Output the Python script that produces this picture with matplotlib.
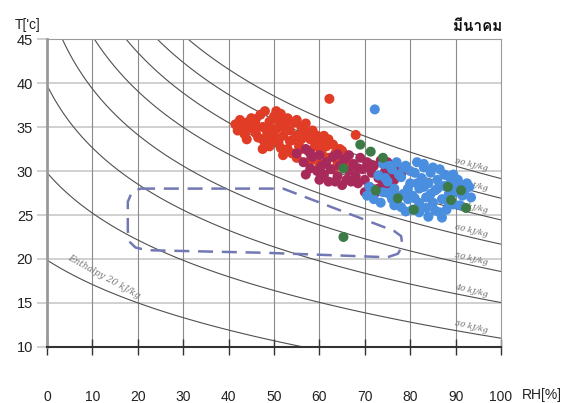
import numpy as np
import matplotlib
matplotlib.use('Agg')
import matplotlib.pyplot as plt
from matplotlib import font_manager, ft2font

red_rh = [41.5, 42, 42.5, 43.5, 44, 45, 45.5, 46, 46.5, 47, 47.5, 47.5, 48, 48.5, 49,
          49.5, 50, 50.5, 51, 51, 51.5, 52, 52.5, 53, 53, 53.5, 54, 54.5, 55, 55.5,
          56, 56, 57, 57.5, 58, 58.5, 59, 60, 60.5, 61, 61.5, 62, 63, 63.5, 64, 65,
          66, 67, 52, 55, 49, 58, 60, 62.2, 44, 63, 46, 50, 68,
          43, 44.5, 46, 47.5, 49, 50.5, 52, 53.5, 55, 56.5, 57, 59.5, 60, 62, 64.5,
          65.5, 54, 56, 48, 51.5]
red_t = [35.3, 34.6, 35.8, 34.2, 35.5, 36.0, 34.8, 35.2, 33.8, 36.4, 35.0, 32.5, 36.8, 34.3, 35.6,
         33.5, 36.2, 34.8, 35.8, 33.2, 36.5, 34.0, 35.3, 32.5, 36.0, 34.6, 33.5, 35.5, 34.0, 32.8,
         35.0, 33.6, 34.4, 32.3, 33.6, 34.6, 32.8, 33.5, 32.0, 34.0, 32.8, 31.5, 33.0, 32.0, 31.0, 32.3,
         31.5, 30.5, 31.8, 31.5, 32.8, 31.2, 30.8, 38.2, 33.6, 30.2, 35.9, 34.0, 34.1,
         35.0, 34.8, 34.3, 33.6, 34.9, 36.8, 35.0, 33.4, 35.8, 34.2, 35.4, 34.0, 32.6, 33.6, 32.5,
         31.2, 32.0, 32.5, 33.2, 32.6]

purple_rh = [55, 56.5, 57, 58, 58.5, 59.5, 60, 61, 61.5, 62.5, 63, 64, 64.5, 65.5, 66,
             66.5, 67.5, 68, 68.5, 69.5, 70, 70.5, 71, 71.5, 72, 72.5, 73, 73.5, 74, 74.5,
             75, 75.5, 76, 77, 78, 60, 57, 63.5,
             58, 60.5, 62, 65, 67, 69, 71, 73, 75, 76.5, 64, 66.5, 68.5, 70]
purple_t = [32.0, 31.0, 32.5, 30.3, 31.6, 30.0, 31.8, 29.6, 31.0, 30.2, 31.6, 29.4, 30.6, 31.3, 29.0,
            30.0, 30.8, 29.4, 28.6, 30.2, 29.0, 31.0, 28.2, 29.8, 30.6, 27.6, 29.2, 31.2, 28.6, 30.0,
            31.0, 29.3, 27.5, 30.4, 29.6, 29.0, 29.6, 28.8,
            32.0, 30.6, 28.8, 28.4, 28.8, 31.5, 30.4, 28.0, 28.2, 29.0, 31.9, 31.8, 30.3, 27.6]

blue_rh = [70.5, 72, 73.5, 75, 76.5, 78, 79.5, 80.5, 82, 83.5, 84, 85.5, 87, 88, 89.5, 91, 93.4,
           73, 74, 75, 76, 76.5, 77, 78, 78.5, 79, 80, 80.5, 81, 81.5, 82, 82.5, 83, 83.5,
           84, 84.5, 85, 85.5, 86, 86.5, 87, 87.5, 88, 88.5, 89, 89.5, 90, 90.5, 91, 92,
           92.5, 77.5, 79.5, 81, 83, 85, 86.5, 72.2, 71, 74,
           74.5, 75.5, 77, 78.5, 80, 81.5, 83, 84.5, 86, 87.5, 88.5, 90, 91.5, 93, 82, 79, 76]
blue_t = [27.2, 26.8, 26.4, 27.5, 26.1, 25.9, 26.8, 25.6, 26.3, 25.8, 24.8, 25.5, 24.7, 25.6, 26.2, 26.1, 27.0,
          29.5, 30.8, 28.8, 30.2, 28.0, 31.0, 29.3, 27.4, 30.6, 28.6, 27.2, 29.8, 31.0, 28.0, 29.2, 30.4, 27.0,
          28.6, 29.8, 30.4, 27.8, 29.0, 30.2, 26.8, 28.3, 29.5, 27.4, 28.8, 29.6, 27.6, 29.0, 28.4, 27.8,
          28.6, 29.6, 28.0, 26.9, 28.2, 26.4, 25.3, 37.0, 28.2, 27.6,
          29.2, 30.6, 27.2, 30.4, 30.0, 28.6, 30.8, 27.4, 28.0, 29.6, 26.2, 28.2, 27.2, 28.2, 25.3, 25.4, 26.8]

green_rh = [69, 71.3, 74, 65.3, 72.4, 91.2, 88.3, 92.3, 80.8, 77.3, 89, 65.3]
green_t = [33.0, 32.2, 31.5, 30.3, 27.8, 27.8, 28.2, 25.8, 25.6, 26.9, 26.7, 22.5]

# comfort zone outline
zone_rh = [20.5, 52, 76.4, 78.0, 78.3, 77.3, 75, 48.5, 22, 19.5, 18.3, 17.8, 17.8, 18.6, 20.5]
zone_t = [28.0, 28.0, 23.2, 22.6, 21.5, 20.6, 20.2, 20.7, 21.0, 21.3, 21.9, 23.2, 26.5, 27.5, 28.0]

enthalpy_levels = [20, 30, 40, 50, 60, 70, 80, 90]

x_ticks = [0, 10, 20, 30, 40, 50, 60, 70, 80, 90, 100]
y_ticks = [10, 15, 20, 25, 30, 35, 40, 45]


def thai_font():
    for f in font_manager.fontManager.ttflist:
        try:
            if 0x0E21 in ft2font.FT2Font(f.fname).get_charmap():
                return f.name
        except Exception:
            pass
    return 'DejaVu Sans'


plt.rcParams['font.family'] = ['Liberation Sans', 'DejaVu Sans']

fig = plt.figure(figsize=(5.79, 4.03), dpi=100)
ax = fig.add_axes([47 / 579, 1 - 347 / 403, 454 / 579, 308 / 403])

# constant enthalpy lines (moist air, with the chart's slightly smaller latent part)
rh = np.linspace(0, 100, 401)
tt = np.linspace(5, 50, 451)
RH, T = np.meshgrid(rh, tt)

def enthalpy(rh_, t_):
    psat = 0.61078 * np.exp(17.27 * t_ / (t_ + 237.3))
    pv = rh_ / 100 * psat
    w = 0.92 * 0.622 * pv / (101.325 - pv)
    return 1.006 * t_ + w * (2501 + 1.86 * t_)

H = enthalpy(RH, T)
ax.contour(RH, T, H, levels=enthalpy_levels, colors='#505050', linewidths=0.8, zorder=2)

h_line = enthalpy(93.5, tt)
for lev in enthalpy_levels[1:]:
    t_lab = np.interp(lev, h_line, tt)
    ax.text(93.5, t_lab + 0.7, '%d kJ/kg' % lev, fontsize=5.8, color='#666666',
            family='DejaVu Serif', style='italic', rotation=-13, ha='center', va='center', zorder=3)
ax.text(12.5, 18.0, 'Enthalpy 20 kJ/kg', fontsize=6.5, color='#777777', family='DejaVu Serif',
        style='italic', rotation=-29, ha='center', va='center', zorder=3)

# comfort zone
ax.plot(zone_rh, zone_t, color='#7278b4', lw=1.8, dashes=(6, 3.5), zorder=4)

ax.scatter(red_rh, red_t, s=52, color='#e03c26', edgecolors='none', zorder=5)
ax.scatter(purple_rh, purple_t, s=52, color='#a82a5a', edgecolors='none', zorder=6)
ax.scatter(blue_rh, blue_t, s=52, color='#4a8ee0', edgecolors='none', zorder=7)
ax.scatter(green_rh, green_t, s=52, color='#3c7a46', edgecolors='none', zorder=8)

ax.set_xlim(0, 100)
ax.set_ylim(10, 45)
ax.set_xticks(x_ticks)
ax.set_yticks(y_ticks)
ax.set_xticklabels([str(v) for v in x_ticks], fontsize=10)
ax.set_yticklabels([str(v) for v in y_ticks], fontsize=10.5)

for y in y_ticks[1:-1]:
    ax.axhline(y, color='#c8c8c8', lw=1.2, zorder=1)
for x in x_ticks[1:-1]:
    ax.axvline(x, color='#8a8a8a', lw=0.8, zorder=1)

ax.tick_params(axis='y', length=7, width=1.2, color='#c8c8c8', pad=3, labelcolor='#222222')
ax.tick_params(axis='x', direction='inout', length=12, width=1, color='#333333', pad=25,
               labelcolor='#222222')

ax.spines['bottom'].set_color('#333333')
ax.spines['bottom'].set_linewidth(1.5)
ax.spines['left'].set_color('#999999')
ax.spines['left'].set_linewidth(2)
for s in ['top', 'right']:
    ax.spines[s].set_color('#9a9a9a')
    ax.spines[s].set_linewidth(0.8)

fig.text(15 / 579, 1 - 25 / 403, "T['c]", fontsize=10, ha='left', va='center', color='#222222')
fig.text(522 / 579, 1 - 395 / 403, 'RH[%]', fontsize=10, ha='left', va='center', color='#222222')
fig.text(502 / 579, 1 - 27 / 403, 'มีนาคม', fontsize=11, fontweight='bold', ha='right',
         va='center', family=[thai_font(), 'DejaVu Sans'], color='#111111')

fig.savefig('out.png', dpi=100)
